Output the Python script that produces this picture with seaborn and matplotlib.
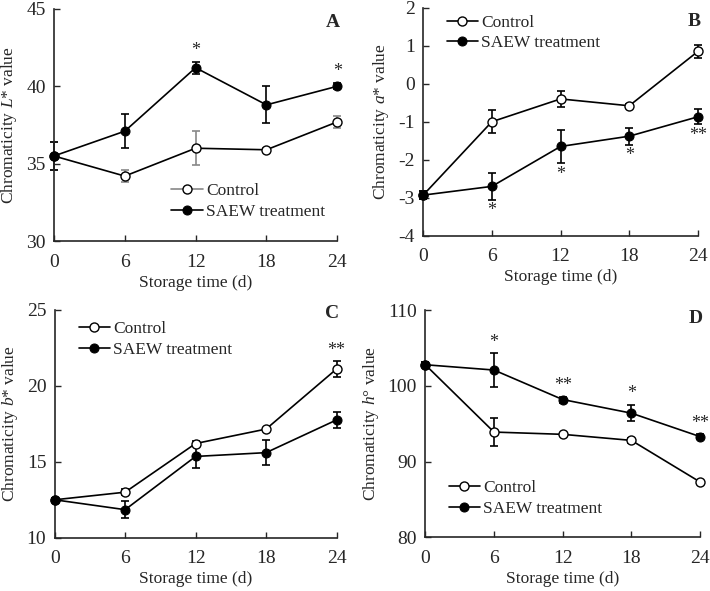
import seaborn as sns
import matplotlib.pyplot as plt
import pandas as pd
import numpy as np

sns.set_style("ticks")
plt.rcParams["font.family"] = ["Liberation Serif", "DejaVu Serif"]
plt.rcParams["mathtext.fontset"] = "custom"
plt.rcParams["mathtext.it"] = "Liberation Serif:italic"
plt.rcParams["mathtext.rm"] = "Liberation Serif"
plt.rcParams["axes.unicode_minus"] = False

days = [0, 6, 12, 18, 24]

# L* value
L_ctrl = [35.5, 34.2, 36.0, 35.9, 37.7]
L_ctrl_err = [0.9, 0.4, 1.1, 0.1, 0.4]
L_saew = [35.5, 37.1, 41.2, 38.8, 40.0]
L_saew_err = [0.9, 1.1, 0.4, 1.2, 0.2]
L_stars = ["", "", "*", "", "*"]

# a* value
a_ctrl = [-2.93, -1.0, -0.4, -0.58, 0.85]
a_ctrl_err = [0.1, 0.3, 0.2, 0.05, 0.17]
a_saew = [-2.93, -2.7, -1.65, -1.38, -0.87]
a_saew_err = [0.1, 0.35, 0.43, 0.22, 0.2]
a_stars = ["", "*", "*", "*", "**"]

# b* value
b_ctrl = [12.5, 13.0, 16.2, 17.15, 21.1]
b_ctrl_err = [0.1, 0.2, 0.15, 0.1, 0.5]
b_saew = [12.5, 11.85, 15.35, 15.6, 17.75]
b_saew_err = [0.1, 0.55, 0.75, 0.8, 0.5]
b_stars = ["", "", "", "", "**"]

# h° value
h_ctrl = [102.8, 93.9, 93.6, 92.8, 87.3]
h_ctrl_err = [0.3, 1.8, 0.2, 0.3, 0.3]
h_saew = [102.8, 102.1, 98.2, 96.4, 93.3]
h_saew_err = [0.3, 2.2, 0.4, 1.1, 0.3]
h_stars = ["", "*", "**", "*", "**"]

panels = [
    dict(letter="A", letter_y=0.94, ylabel=r"Chromaticity $L$* value", ylim=(30, 45), yticks=[30, 35, 40, 45],
         ctrl=L_ctrl, ctrl_err=L_ctrl_err, saew=L_saew, saew_err=L_saew_err, stars=L_stars,
         star_ref="saew", star_side="above", ctrl_ecolor="#888888", ctrl_lcolor="#888888",
         legend=dict(loc="center left", bbox_to_anchor=(0.39, 0.17)),
         rect=[0.076, 0.592, 0.399, 0.393]),
    dict(letter="B", letter_y=0.94, ylabel=r"Chromaticity $a$* value", ylim=(-4, 2), yticks=[-4, -3, -2, -1, 0, 1, 2],
         ctrl=a_ctrl, ctrl_err=a_ctrl_err, saew=a_saew, saew_err=a_saew_err, stars=a_stars,
         star_ref="saew", star_side="below", ctrl_ecolor="black", ctrl_lcolor="black",
         legend=dict(loc="upper left", bbox_to_anchor=(0.06, 1.0)),
         rect=[0.596, 0.601, 0.387, 0.386]),
    dict(letter="C", letter_y=0.985, ylabel=r"Chromaticity $b$* value", ylim=(10, 25), yticks=[10, 15, 20, 25],
         ctrl=b_ctrl, ctrl_err=b_ctrl_err, saew=b_saew, saew_err=b_saew_err, stars=b_stars,
         star_ref="ctrl", star_side="above", ctrl_ecolor="black", ctrl_lcolor="black",
         legend=dict(loc="upper left", bbox_to_anchor=(0.06, 0.98)),
         rect=[0.077, 0.090, 0.397, 0.386]),
    dict(letter="D", letter_y=0.965, ylabel=r"Chromaticity $h$° value", ylim=(80, 110), yticks=[80, 90, 100, 110],
         ctrl=h_ctrl, ctrl_err=h_ctrl_err, saew=h_saew, saew_err=h_saew_err, stars=h_stars,
         star_ref="saew", star_side="above", ctrl_ecolor="black", ctrl_lcolor="black",
         legend=dict(loc="lower left", bbox_to_anchor=(0.06, 0.06)),
         rect=[0.599, 0.091, 0.387, 0.384]),
]

fig = plt.figure(figsize=(7.1, 5.91), dpi=100)

for p in panels:
    ax = fig.add_axes(p["rect"])
    df = pd.DataFrame({"day": days * 2,
                       "value": p["ctrl"] + p["saew"],
                       "group": ["Control"] * 5 + ["SAEW treatment"] * 5})
    # error bars
    ax.errorbar(days, p["ctrl"], yerr=p["ctrl_err"], fmt="none", ecolor=p["ctrl_ecolor"],
                elinewidth=1.2, capsize=3, capthick=1.2, clip_on=False, zorder=2)
    ax.errorbar(days, p["saew"], yerr=p["saew_err"], fmt="none", ecolor="black",
                elinewidth=1.2, capsize=3, capthick=1.2, clip_on=False, zorder=2)
    sns.lineplot(data=df[df.group == "Control"], x="day", y="value", ax=ax,
                 color="black", lw=1.2, marker="o", markersize=6.5,
                 markerfacecolor="white", markeredgecolor="black", markeredgewidth=1.0,
                 clip_on=False, zorder=3, label="Control")
    sns.lineplot(data=df[df.group == "SAEW treatment"], x="day", y="value", ax=ax,
                 color="black", lw=1.2, marker="o", markersize=6.5,
                 markerfacecolor="black", markeredgecolor="black",
                 clip_on=False, zorder=4, label="SAEW treatment")
    # significance marks
    ref_m = p[p["star_ref"]]
    ref_e = p[p["star_ref"] + "_err"]
    for d, m, e, s in zip(days, ref_m, ref_e, p["stars"]):
        if not s:
            continue
        if p["star_side"] == "above":
            ax.annotate(s, (d, m + e), xytext=(0, 2), textcoords="offset points",
                        ha="center", va="bottom", fontsize=13)
        else:
            ax.annotate(s, (d, m - e), xytext=(0, -2), textcoords="offset points",
                        ha="center", va="top", fontsize=13)

    ax.set_xlim(0, 24)
    ax.set_xticks(days)
    ax.set_ylim(*p["ylim"])
    ax.set_yticks(p["yticks"])
    ax.set_xlabel("Storage time (d)", fontsize=12.5, labelpad=3)
    ax.set_ylabel(p["ylabel"], fontsize=12.5, labelpad=5)
    ax.tick_params(axis="x", direction="in", length=4, width=1, labelsize=14, pad=9)
    ax.tick_params(axis="y", direction="in", length=4, width=1, labelsize=14, pad=6)
    for sp in ["left", "bottom"]:
        ax.spines[sp].set_linewidth(1.2)
    sns.despine(ax=ax)
    ax.text(1.01, p["letter_y"], p["letter"], transform=ax.transAxes, ha="right", va="center",
            fontsize=14, fontweight="bold")

    leg = ax.legend(frameon=False, fontsize=12.5, handlelength=1.8, handletextpad=0.2,
                    borderaxespad=0, labelspacing=0.25, **p["legend"])
    leg.get_lines()[0].set_color(p["ctrl_lcolor"])
    leg.get_lines()[0].set_markeredgecolor("black")

fig.savefig("out.png", dpi=100)
plt.close(fig)
